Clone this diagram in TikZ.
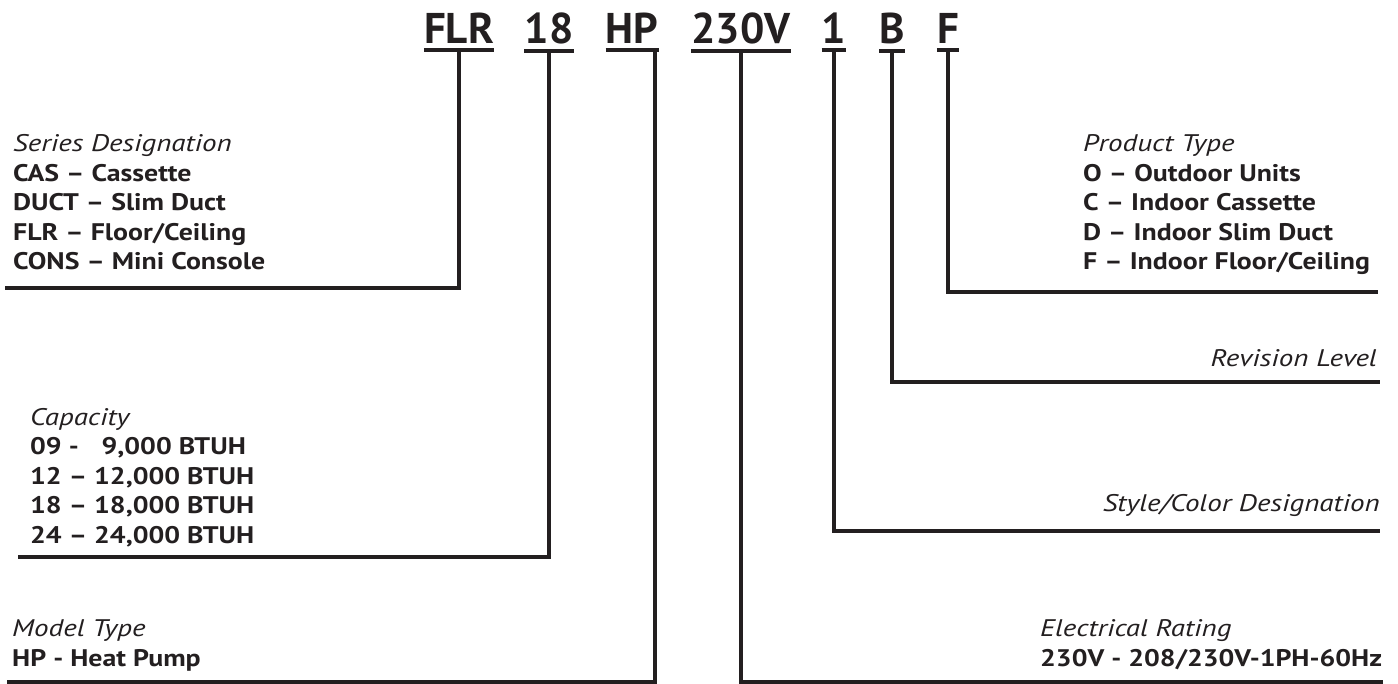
\documentclass[tikz,border=0pt]{standalone}
\usepackage{fontspec}
\setmainfont{PT Sans}[FakeStretch=1.16, ItalicFeatures={FakeStretch=1.21}]
\newfontfamily\codefamily{PT Sans}
\usetikzlibrary{positioning, calc}
\definecolor{inkblack}{RGB}{35, 31, 32}
\newcommand{\codefont}{\codefamily\fontsize{43}{43}\selectfont\bfseries}
\newcommand{\keyfont}{\fontsize{24}{29.5}\selectfont}
\tikzset{
  leadline/.style={line width=3.5pt, inkblack},
  underline/.style={line width=4pt, inkblack}
}

\begin{document}
\begin{tikzpicture}[
    x=1pt, y=-1pt,
    codebox/.style={font=\codefont, text=inkblack, inner xsep=0pt, inner ysep=6pt, anchor=base},
    keyleft/.style={font=\keyfont, text=inkblack, align=left, inner sep=0pt, anchor=base west},
    keyright/.style={font=\keyfont, text=inkblack, align=right, inner sep=0pt, anchor=base east}
]
    \useasboundingbox (0, 0) rectangle (1398, 684);

    % Model number
    \node[codebox] (flr) at (459, 44) {FLR};
    \node[codebox] (cap) at (549, 44) {18};
    \node[codebox] (hp) at (632, 44) {HP};
    \node[codebox] (volt) at (741, 44) {230V};
    \node[codebox] (rev1) at (834, 44) {1};
    \node[codebox] (revb) at (892, 44) {B};
    \node[codebox] (ptype) at (948, 44) {F};
    \foreach \n in {flr, cap, hp, volt, rev1, revb, ptype}
        \draw[underline] (\n.south west) -- (\n.south east);

    % Left side keys (base = last line)
    \node[keyleft] (series) at (13, 270) {\textit{Series Designation}\\\textbf{CAS – Cassette}\\\textbf{DUCT – Slim Duct}\\\textbf{FLR – Floor/Ceiling}\\\textbf{CONS – Mini Console}};
    \node[keyleft] (capacity) at (30, 543) {\textit{Capacity}\\\textbf{09 - \hphantom{0}9,000 BTUH}\\\textbf{12 – 12,000 BTUH}\\\textbf{18 – 18,000 BTUH}\\\textbf{24 – 24,000 BTUH}};
    \node[keyleft] (model) at (12, 666) {\textit{Model Type}\\\textbf{HP - Heat Pump}};

    % Right side keys
    \node[keyleft] (product) at (1083, 270) {\textit{Product Type}\\\textbf{O – Outdoor Units}\\\textbf{C – Indoor Cassette}\\\textbf{D – Indoor Slim Duct}\\\textbf{F – Indoor Floor/Ceiling}};
    \node[keyright] (revision) at (1377, 367) {\textit{Revision Level}};
    \node[keyright] (style) at (1380, 511) {\textit{Style/Color Designation}};
    \node[keyleft] (elec) at (1040, 666) {\textit{Electrical Rating}\\\textbf{230V - 208/230V-1PH-60Hz}};

    % Line ends
    \coordinate (seriesEnd) at (5, 288);
    \coordinate (capEnd) at (18, 557);
    \coordinate (modelEnd) at (7, 682);
    \coordinate (voltEnd) at (1383, 682);
    \coordinate (styleEnd) at (1380, 531);
    \coordinate (revEnd) at (1380, 382);
    \coordinate (productEnd) at (1378, 292);

    % Leader lines
    \draw[leadline] (flr.south) |- (seriesEnd);
    \draw[leadline] (cap.south) |- (capEnd);
    \draw[leadline] ([xshift=23pt]hp.south) |- (modelEnd);
    \draw[leadline] (volt.south) |- (voltEnd);
    \draw[leadline] (rev1.south) |- (styleEnd);
    \draw[leadline] (revb.south) |- (revEnd);
    \draw[leadline] (ptype.south) |- (productEnd);
\end{tikzpicture}
\end{document}
